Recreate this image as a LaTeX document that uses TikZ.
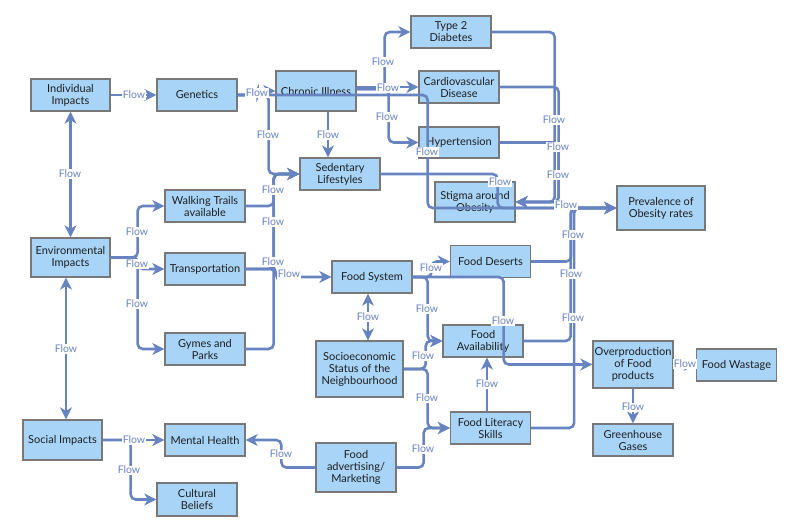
\documentclass[tikz,border=0pt]{standalone}
\usepackage{fontspec}
\setmainfont{Lato}
\usetikzlibrary{arrows.meta}
\definecolor{flowc}{RGB}{104,132,192}
\definecolor{boxfill}{RGB}{168,212,247}
\definecolor{boxline}{RGB}{120,120,120}
\definecolor{txt}{RGB}{30,30,30}
\tikzset{
  box/.style={rectangle, draw=boxline, fill=boxfill, line width=1.3pt, align=center,
    inner sep=1pt, font=\fontsize{11}{12}\selectfont, text=txt},
  flow/.style={draw=flowc, line width=2.6pt, rounded corners=5pt,
    -{Stealth[length=12pt,width=12pt,inset=3.5pt]}},
  flowboth/.style={draw=flowc, line width=2.6pt,
    {Stealth[length=12pt,width=12pt,inset=3.5pt]}-{Stealth[length=12pt,width=12pt,inset=3.5pt]}},
  lbl/.style={fill=white, inner sep=0.6pt, text=flowc, font=\fontsize{10.5}{11}\selectfont}
}
\begin{document}
\begin{tikzpicture}[x=1pt,y=-1pt]
\useasboundingbox (0,0) rectangle (800,532);
% nodes
\node[box, minimum width=79pt, minimum height=32pt] (ind) at (70.5,95) {Individual\\Impacts};
\node[box, minimum width=80pt, minimum height=32pt] (gen) at (197,95) {Genetics};
\node[box, minimum width=80pt, minimum height=40pt] (chr) at (316,91) {Chronic Illness};
\node[box, minimum width=80pt, minimum height=32pt] (dia) at (451,32) {Type 2\\Diabetes};
\node[box, minimum width=80pt, minimum height=32pt] (car) at (459,87) {Cardiovascular\\Disease};
\node[box, minimum width=80pt, minimum height=31pt] (hyp) at (459,142.5) {Hypertension};
\node[box, minimum width=80pt, minimum height=32pt] (sed) at (340,174) {Sedentary\\Lifestyles};
\node[box, minimum width=80pt, minimum height=40pt] (sti) at (475,202) {Stigma around\\Obesity};
\node[box, minimum width=88pt, minimum height=44pt] (pre) at (661,208) {Prevalence of\\Obesity rates};
\node[box, minimum width=80pt, minimum height=32pt] (wal) at (205,206) {Walking Trails\\available};
\node[box, minimum width=79pt, minimum height=39pt] (env) at (70.5,257.5) {Environmental\\Impacts};
\node[box, minimum width=80pt, minimum height=32pt] (tra) at (205,269) {Transportation};
\node[box, minimum width=80pt, minimum height=32pt] (fsy) at (372,277) {Food System};
\node[box, minimum width=80pt, minimum height=32pt] (fde) at (490.5,261.5) {Food Deserts};
\node[box, minimum width=80pt, minimum height=32pt] (gym) at (205,349) {Gymes and\\Parks};
\node[box, minimum width=87pt, minimum height=56pt] (soc) at (359.5,369) {Socioeconomic\\Status of the\\Neighbourhood};
\node[box, minimum width=80pt, minimum height=32pt] (fav) at (483,341) {Food\\Availability};
\node[box, minimum width=80pt, minimum height=47pt] (ovp) at (633,364.5) {Overproduction\\of Food\\products};
\node[box, minimum width=80pt, minimum height=32pt] (fwa) at (736.5,365) {Food Wastage};
\node[box, minimum width=80pt, minimum height=32pt] (ghg) at (633,440) {Greenhouse\\Gases};
\node[box, minimum width=79pt, minimum height=40pt] (sim) at (62.5,440) {Social Impacts};
\node[box, minimum width=80pt, minimum height=32pt] (mhe) at (205,440) {Mental Health};
\node[box, minimum width=80pt, minimum height=33pt] (cul) at (197,499.5) {Cultural\\Beliefs};
\node[box, minimum width=80pt, minimum height=49pt] (fad) at (356,467.5) {Food\\advertising/\\Marketing};
\node[box, minimum width=80pt, minimum height=32pt] (fls) at (490.5,428) {Food Literacy\\Skills};
% connectors
\draw[flow] (ind.east) -- (gen.west);
\draw[flowboth] (ind.south) -- (env.north);
\draw[flowboth] ([xshift=-4.5pt]env.south) -- ([xshift=3.5pt]sim.north);
\draw[flow] (gen.east) -- ++(20,0) |- (chr.west);
\draw[flow] (gen.east) -- ++(31,0) |- (sed.west);
\draw[flow] (gen.east) -- ++(190,0) |- (pre.west);
\draw[flow] ([yshift=2pt]chr.east) -- ++(28,0) |- (dia.west);
\draw[flow] ([yshift=4pt]chr.east) -- (car.west);
\draw[flow] ([yshift=2pt]chr.east) -- ++(32,0) |- (hyp.west);
\draw[flow] ([xshift=12pt]chr.south) -- ([xshift=-12pt]sed.north);
\draw[flow] (dia.east) -- ++(63,0) |- (sti.east);
\draw[flow] (car.east) -- ++(59,0) |- (sti.east);
\draw[flow] (hyp.east) -- ++(59,0) |- (sti.east);
\draw[flow] ([yshift=-6pt]sti.east) -- (pre.west);
\draw[flow] (sed.east) -- ++(117,0) |- (pre.west);
\draw[flow] (env.east) -- ++(27,0) |- (wal.west);
\draw[flow] (env.east) -- ++(27,0) |- (tra.west);
\draw[flow] (env.east) -- ++(27,0) |- (gym.west);
\draw[flow] (wal.east) -- ++(28,0) |- (sed.west);
\draw[flow] (tra.east) -- ++(28,0) |- (sed.west);
\draw[flow] (gym.east) -- ++(28,0) |- (sed.west);
\draw[flow] (tra.east) -- ++(30,0) |- (fsy.west);
\draw[flow] (fsy.east) -- ++(19,0) |- (fde.west);
\draw[flow] (fsy.east) -- ++(15,0) |- (fav.west);
\draw[flow] (fsy.east) -- ++(91,0) |- (ovp.west);
\draw[flowboth] ([xshift=-4pt]fsy.south) -- ([xshift=8.5pt]soc.north);
\draw[flow] (soc.east) -- ++(22,0) |- (fav.west);
\draw[flow] (soc.east) -- ++(24,0) |- (fls.west);
\draw[flow] (fad.east) -- ++(27,0) |- (fls.west);
\draw[flow] (fad.west) -- ++(-34,0) |- (mhe.east);
\draw[flow] ([xshift=-3.5pt]fls.north) -- ([xshift=4pt]fav.south);
\draw[flow] (fls.east) -- ++(43,0) |- (pre.west);
\draw[flow] (fav.east) -- ++(47,0) |- (pre.west);
\draw[flow] (fde.east) -- ++(40,0) |- (pre.west);
\draw[flow] (ovp.east) -- (fwa.west);
\draw[flow] (ovp.south) -- (ghg.north);
\draw[flow] (sim.east) -- (mhe.west);
\draw[flow] (sim.east) -- ++(28,0) |- (cul.west);
% labels
\node[lbl] (l1) at (134,95) {Flow};
\node[lbl] (l2) at (70,174) {Flow};
\node[lbl] (l3) at (66,349) {Flow};
\node[lbl] (l4) at (257,93) {Flow};
\node[lbl] (l5) at (268,135) {Flow};
\node[lbl] (l6) at (427,152) {Flow};
\node[lbl] (l7) at (383,62) {Flow};
\node[lbl] (l8) at (388,88) {Flow};
\node[lbl] (l9) at (387,117) {Flow};
\node[lbl] (l10) at (328,135) {Flow};
\node[lbl] (l11) at (554,120) {Flow};
\node[lbl] (l12) at (558,147) {Flow};
\node[lbl] (l13) at (558,175) {Flow};
\node[lbl] (l14) at (566,205) {Flow};
\node[lbl] (l15) at (500,182) {Flow};
\node[lbl] (l16) at (137,232) {Flow};
\node[lbl] (l17) at (137,264) {Flow};
\node[lbl] (l18) at (137,304) {Flow};
\node[lbl] (l19) at (273,190) {Flow};
\node[lbl] (l20) at (273,222) {Flow};
\node[lbl] (l21) at (273,262) {Flow};
\node[lbl] (l22) at (289,274) {Flow};
\node[lbl] (l23) at (431,268) {Flow};
\node[lbl] (l24) at (427,309) {Flow};
\node[lbl] (l25) at (503,321) {Flow};
\node[lbl] (l26) at (368,317) {Flow};
\node[lbl] (l27) at (423,356) {Flow};
\node[lbl] (l28) at (427,398) {Flow};
\node[lbl] (l29) at (423,449) {Flow};
\node[lbl] (l30) at (281,454) {Flow};
\node[lbl] (l31) at (487,384) {Flow};
\node[lbl] (l32) at (573,318) {Flow};
\node[lbl] (l33) at (571,274) {Flow};
\node[lbl] (l34) at (573,235) {Flow};
\node[lbl] (l35) at (685,364) {Flow};
\node[lbl] (l36) at (633,407) {Flow};
\node[lbl] (l37) at (134,440) {Flow};
\node[lbl] (l38) at (129,470) {Flow};
\end{tikzpicture}
\end{document}
